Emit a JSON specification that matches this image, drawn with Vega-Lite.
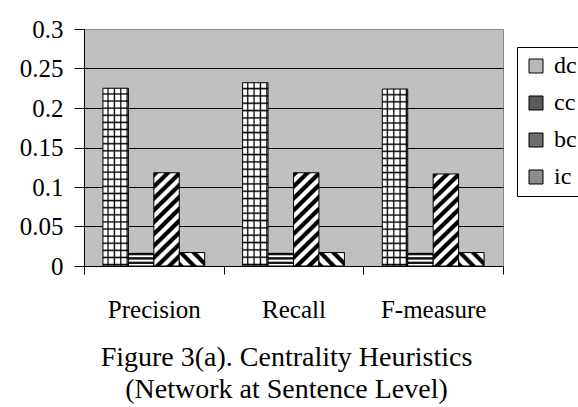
{
  "$schema": "https://vega.github.io/schema/vega-lite/v6.json",
  "width": 419,
  "height": 237,
  "autosize": {"type": "none"},
  "padding": {"left": 84, "top": 29, "right": 75, "bottom": 141},
  "background": "white",
  "config": {
    "view": {"fill": "#C0C0C0", "stroke": "#8a8a8a"},
    "font": "Liberation Serif"
  },
  "title": {
    "text": ["Figure 3(a). Centrality Heuristics", "(Network at Sentence Level)"],
    "orient": "bottom",
    "anchor": "middle",
    "frame": "group",
    "font": "Liberation Serif",
    "fontSize": 28,
    "fontWeight": "normal",
    "lineHeight": 32,
    "color": "black",
    "offset": 22,
    "dx": -7
  },
  "data": {
    "values": [
      {"measure": "Precision", "series": "dc", "value": 0.225},
      {"measure": "Precision", "series": "cc", "value": 0.016},
      {"measure": "Precision", "series": "bc", "value": 0.118},
      {"measure": "Precision", "series": "ic", "value": 0.017},
      {"measure": "Recall", "series": "dc", "value": 0.232},
      {"measure": "Recall", "series": "cc", "value": 0.016},
      {"measure": "Recall", "series": "bc", "value": 0.118},
      {"measure": "Recall", "series": "ic", "value": 0.017},
      {"measure": "F-measure", "series": "dc", "value": 0.224},
      {"measure": "F-measure", "series": "cc", "value": 0.016},
      {"measure": "F-measure", "series": "bc", "value": 0.1165},
      {"measure": "F-measure", "series": "ic", "value": 0.017}
    ]
  },
  "encoding": {
    "x": {
      "field": "measure", "type": "nominal",
      "sort": ["Precision", "Recall", "F-measure"],
      "scale": {"paddingInner": 0, "paddingOuter": 0},
      "axis": {
        "title": null, "labelAngle": 0, "tickBand": "extent", "tickSize": 8,
        "labelPadding": 23, "labelFont": "Liberation Serif", "labelFontSize": 25,
        "labelColor": "black", "tickColor": "black", "domainColor": "black", "grid": false
      }
    },
    "xOffset": {
      "field": "series", "type": "nominal",
      "scale": {"domain": ["dc", "cc", "bc", "ic"], "paddingInner": 0, "paddingOuter": 0.745}
    },
    "y": {
      "field": "value", "type": "quantitative",
      "scale": {"domain": [0, 0.3], "nice": false},
      "axis": {
        "title": null, "values": [0, 0.05, 0.1, 0.15, 0.2, 0.25, 0.3], "format": "~g",
        "labelFont": "Liberation Serif", "labelFontSize": 25, "labelColor": "black",
        "tickSize": 10, "labelPadding": 11, "tickColor": "black", "domainColor": "black",
        "grid": true, "gridOpacity": 1,
        "gridColor": {"condition": {"test": "datum.value >= 0.3", "value": "#8a8a8a"}, "value": "black"}
      }
    }
  },
  "layer": [
    {
      "mark": {"type": "bar", "opacity": 1},
      "encoding": {
        "color": {
          "field": "series", "type": "nominal",
          "scale": {"domain": ["dc", "cc", "bc", "ic"], "range": ["#b8b8b8", "#5a5a5a", "#6e6e6e", "#8c8c8c"]},
          "legend": {
            "title": null, "orient": "none", "legendX": 433, "legendY": 18,
            "strokeColor": "black", "fillColor": "white", "padding": 7,
            "symbolType": "square", "symbolSize": 196, "symbolStrokeColor": "black", "symbolStrokeWidth": 1,
            "symbolOpacity": 1,
            "labelFont": "Liberation Serif", "labelFontSize": 24, "labelColor": "black",
            "rowPadding": 13, "labelOffset": 6, "cornerRadius": 0,
            "encode": {
              "symbols": {
                "update": {
                  "stroke": {"value": "black"},
                  "fill": {"value": {"expr": "datum.value === 'dc' ? {gradient: 'linear', x1: 0, y1: 0, x2: 1, y2: 0, stops: [{offset: 0, color: '#fff'}, {offset: 0.2, color: '#fff'}, {offset: 0.28, color: '#000'}, {offset: 0.36, color: '#fff'}, {offset: 0.55, color: '#fff'}, {offset: 0.63, color: '#000'}, {offset: 0.71, color: '#fff'}, {offset: 1, color: '#fff'}]} : datum.value === 'cc' ? {gradient: 'linear', x1: 0, y1: 0, x2: 0, y2: 1, stops: [{offset: 0, color: '#fff'}, {offset: 0.1, color: '#fff'}, {offset: 0.12, color: '#000'}, {offset: 0.3, color: '#000'}, {offset: 0.36, color: '#fff'}, {offset: 0.48, color: '#fff'}, {offset: 0.52, color: '#000'}, {offset: 0.68, color: '#000'}, {offset: 0.72, color: '#fff'}, {offset: 0.82, color: '#fff'}, {offset: 0.86, color: '#000'}, {offset: 1, color: '#000'}]} : datum.value === 'bc' ? {gradient: 'linear', x1: 0, y1: 0, x2: 1, y2: 1, stops: [{offset: 0, color: '#000'}, {offset: 0.32, color: '#000'}, {offset: 0.42, color: '#fff'}, {offset: 0.58, color: '#fff'}, {offset: 0.68, color: '#000'}, {offset: 1, color: '#000'}]} : {gradient: 'linear', x1: 0, y1: 1, x2: 1, y2: 0, stops: [{offset: 0, color: '#fff'}, {offset: 0.15, color: '#fff'}, {offset: 0.25, color: '#000'}, {offset: 0.6, color: '#000'}, {offset: 0.7, color: '#fff'}, {offset: 1, color: '#fff'}]}"}}
                }
              }
            }
          }
        }
      }
    },
    {
      "mark": {"type": "bar", "stroke": "black", "strokeWidth": 1},
      "encoding": {
        "fill": {
          "condition": [
            {"test": "datum.series === 'dc'", "value": {"gradient": "linear", "x1": 0, "y1": 0, "x2": 1, "y2": 0, "stops": [
                {"offset": 0, "color": "#fff"}, {"offset": 0.15, "color": "#fff"}, {"offset": 0.2, "color": "#000"},
                {"offset": 0.25, "color": "#fff"}, {"offset": 0.4, "color": "#fff"}, {"offset": 0.45, "color": "#000"},
                {"offset": 0.5, "color": "#fff"}, {"offset": 0.65, "color": "#fff"}, {"offset": 0.7, "color": "#000"},
                {"offset": 0.75, "color": "#fff"}, {"offset": 0.9, "color": "#fff"}, {"offset": 0.95, "color": "#000"},
                {"offset": 1, "color": "#fff"}]}},
            {"test": "datum.series === 'cc'", "value": {"gradient": "linear", "x1": 0, "y1": 0, "x2": 0, "y2": 1, "stops": [
                {"offset": 0, "color": "#111"}, {"offset": 0.133, "color": "#111"}, {"offset": 0.183, "color": "#fff"}, {"offset": 0.3, "color": "#fff"},
                {"offset": 0.333, "color": "#111"}, {"offset": 0.467, "color": "#111"}, {"offset": 0.517, "color": "#fff"}, {"offset": 0.633, "color": "#fff"},
                {"offset": 0.667, "color": "#111"}, {"offset": 0.8, "color": "#111"}, {"offset": 0.85, "color": "#fff"}, {"offset": 0.967, "color": "#fff"},
                {"offset": 1, "color": "#111"}]}},
            {"test": "datum.series === 'bc'", "value": {"gradient": "linear", "x1": 0, "y1": 0, "x2": 0.318, "y2": 1.183, "stops": [
                {"offset": 0, "color": "#000"}, {"offset": 0.035, "color": "#000"}, {"offset": 0.05, "color": "#fff"}, {"offset": 0.085, "color": "#fff"},
                {"offset": 0.1, "color": "#000"}, {"offset": 0.135, "color": "#000"}, {"offset": 0.15, "color": "#fff"}, {"offset": 0.185, "color": "#fff"},
                {"offset": 0.2, "color": "#000"}, {"offset": 0.235, "color": "#000"}, {"offset": 0.25, "color": "#fff"}, {"offset": 0.285, "color": "#fff"},
                {"offset": 0.3, "color": "#000"}, {"offset": 0.335, "color": "#000"}, {"offset": 0.35, "color": "#fff"}, {"offset": 0.385, "color": "#fff"},
                {"offset": 0.4, "color": "#000"}, {"offset": 0.435, "color": "#000"}, {"offset": 0.45, "color": "#fff"}, {"offset": 0.485, "color": "#fff"},
                {"offset": 0.5, "color": "#000"}, {"offset": 0.535, "color": "#000"}, {"offset": 0.55, "color": "#fff"}, {"offset": 0.585, "color": "#fff"},
                {"offset": 0.6, "color": "#000"}, {"offset": 0.635, "color": "#000"}, {"offset": 0.65, "color": "#fff"}, {"offset": 0.685, "color": "#fff"},
                {"offset": 0.7, "color": "#000"}, {"offset": 0.735, "color": "#000"}, {"offset": 0.75, "color": "#fff"}, {"offset": 0.785, "color": "#fff"},
                {"offset": 0.8, "color": "#000"}, {"offset": 0.835, "color": "#000"}, {"offset": 0.85, "color": "#fff"}, {"offset": 0.885, "color": "#fff"},
                {"offset": 0.9, "color": "#000"}, {"offset": 0.935, "color": "#000"}, {"offset": 0.95, "color": "#fff"}, {"offset": 0.985, "color": "#fff"},
                {"offset": 1, "color": "#000"}]}}
          ],
          "value": {"gradient": "linear", "x1": 0, "y1": 1, "x2": 1.197, "y2": 0.378, "stops": [
                {"offset": 0, "color": "#000"}, {"offset": 0.1, "color": "#000"}, {"offset": 0.15, "color": "#fff"}, {"offset": 0.283, "color": "#fff"},
                {"offset": 0.333, "color": "#000"}, {"offset": 0.433, "color": "#000"}, {"offset": 0.483, "color": "#fff"}, {"offset": 0.617, "color": "#fff"},
                {"offset": 0.667, "color": "#000"}, {"offset": 0.767, "color": "#000"}, {"offset": 0.817, "color": "#fff"}, {"offset": 0.95, "color": "#fff"},
                {"offset": 1, "color": "#000"}]}
        }
      }
    },
    {
      "transform": [{"filter": "datum.series === 'dc'"}],
      "mark": {
        "type": "bar",
        "fill": {"gradient": "linear", "x1": 0, "y1": 0, "x2": 0, "y2": 1, "stops": [
          {"offset": 0, "color": "rgba(0,0,0,0)"}, {"offset": 0.024, "color": "rgba(0,0,0,0)"}, {"offset": 0.032, "color": "#000"},
          {"offset": 0.04, "color": "rgba(0,0,0,0)"}, {"offset": 0.064, "color": "rgba(0,0,0,0)"}, {"offset": 0.072, "color": "#000"},
          {"offset": 0.08, "color": "rgba(0,0,0,0)"}, {"offset": 0.104, "color": "rgba(0,0,0,0)"}, {"offset": 0.112, "color": "#000"},
          {"offset": 0.12, "color": "rgba(0,0,0,0)"}, {"offset": 0.144, "color": "rgba(0,0,0,0)"}, {"offset": 0.152, "color": "#000"},
          {"offset": 0.16, "color": "rgba(0,0,0,0)"}, {"offset": 0.184, "color": "rgba(0,0,0,0)"}, {"offset": 0.192, "color": "#000"},
          {"offset": 0.2, "color": "rgba(0,0,0,0)"}, {"offset": 0.224, "color": "rgba(0,0,0,0)"}, {"offset": 0.232, "color": "#000"},
          {"offset": 0.24, "color": "rgba(0,0,0,0)"}, {"offset": 0.264, "color": "rgba(0,0,0,0)"}, {"offset": 0.272, "color": "#000"},
          {"offset": 0.28, "color": "rgba(0,0,0,0)"}, {"offset": 0.304, "color": "rgba(0,0,0,0)"}, {"offset": 0.312, "color": "#000"},
          {"offset": 0.32, "color": "rgba(0,0,0,0)"}, {"offset": 0.344, "color": "rgba(0,0,0,0)"}, {"offset": 0.352, "color": "#000"},
          {"offset": 0.36, "color": "rgba(0,0,0,0)"}, {"offset": 0.384, "color": "rgba(0,0,0,0)"}, {"offset": 0.392, "color": "#000"},
          {"offset": 0.4, "color": "rgba(0,0,0,0)"}, {"offset": 0.424, "color": "rgba(0,0,0,0)"}, {"offset": 0.432, "color": "#000"},
          {"offset": 0.44, "color": "rgba(0,0,0,0)"}, {"offset": 0.464, "color": "rgba(0,0,0,0)"}, {"offset": 0.472, "color": "#000"},
          {"offset": 0.48, "color": "rgba(0,0,0,0)"}, {"offset": 0.504, "color": "rgba(0,0,0,0)"}, {"offset": 0.512, "color": "#000"},
          {"offset": 0.52, "color": "rgba(0,0,0,0)"}, {"offset": 0.544, "color": "rgba(0,0,0,0)"}, {"offset": 0.552, "color": "#000"},
          {"offset": 0.56, "color": "rgba(0,0,0,0)"}, {"offset": 0.584, "color": "rgba(0,0,0,0)"}, {"offset": 0.592, "color": "#000"},
          {"offset": 0.6, "color": "rgba(0,0,0,0)"}, {"offset": 0.624, "color": "rgba(0,0,0,0)"}, {"offset": 0.632, "color": "#000"},
          {"offset": 0.64, "color": "rgba(0,0,0,0)"}, {"offset": 0.664, "color": "rgba(0,0,0,0)"}, {"offset": 0.672, "color": "#000"},
          {"offset": 0.68, "color": "rgba(0,0,0,0)"}, {"offset": 0.704, "color": "rgba(0,0,0,0)"}, {"offset": 0.712, "color": "#000"},
          {"offset": 0.72, "color": "rgba(0,0,0,0)"}, {"offset": 0.744, "color": "rgba(0,0,0,0)"}, {"offset": 0.752, "color": "#000"},
          {"offset": 0.76, "color": "rgba(0,0,0,0)"}, {"offset": 0.784, "color": "rgba(0,0,0,0)"}, {"offset": 0.792, "color": "#000"},
          {"offset": 0.8, "color": "rgba(0,0,0,0)"}, {"offset": 0.824, "color": "rgba(0,0,0,0)"}, {"offset": 0.832, "color": "#000"},
          {"offset": 0.84, "color": "rgba(0,0,0,0)"}, {"offset": 0.864, "color": "rgba(0,0,0,0)"}, {"offset": 0.872, "color": "#000"},
          {"offset": 0.88, "color": "rgba(0,0,0,0)"}, {"offset": 0.904, "color": "rgba(0,0,0,0)"}, {"offset": 0.912, "color": "#000"},
          {"offset": 0.92, "color": "rgba(0,0,0,0)"}, {"offset": 0.944, "color": "rgba(0,0,0,0)"}, {"offset": 0.952, "color": "#000"},
          {"offset": 0.96, "color": "rgba(0,0,0,0)"}, {"offset": 0.984, "color": "rgba(0,0,0,0)"}, {"offset": 0.992, "color": "#000"},
          {"offset": 1, "color": "rgba(0,0,0,0)"}]}
      }
    }
  ]
}
